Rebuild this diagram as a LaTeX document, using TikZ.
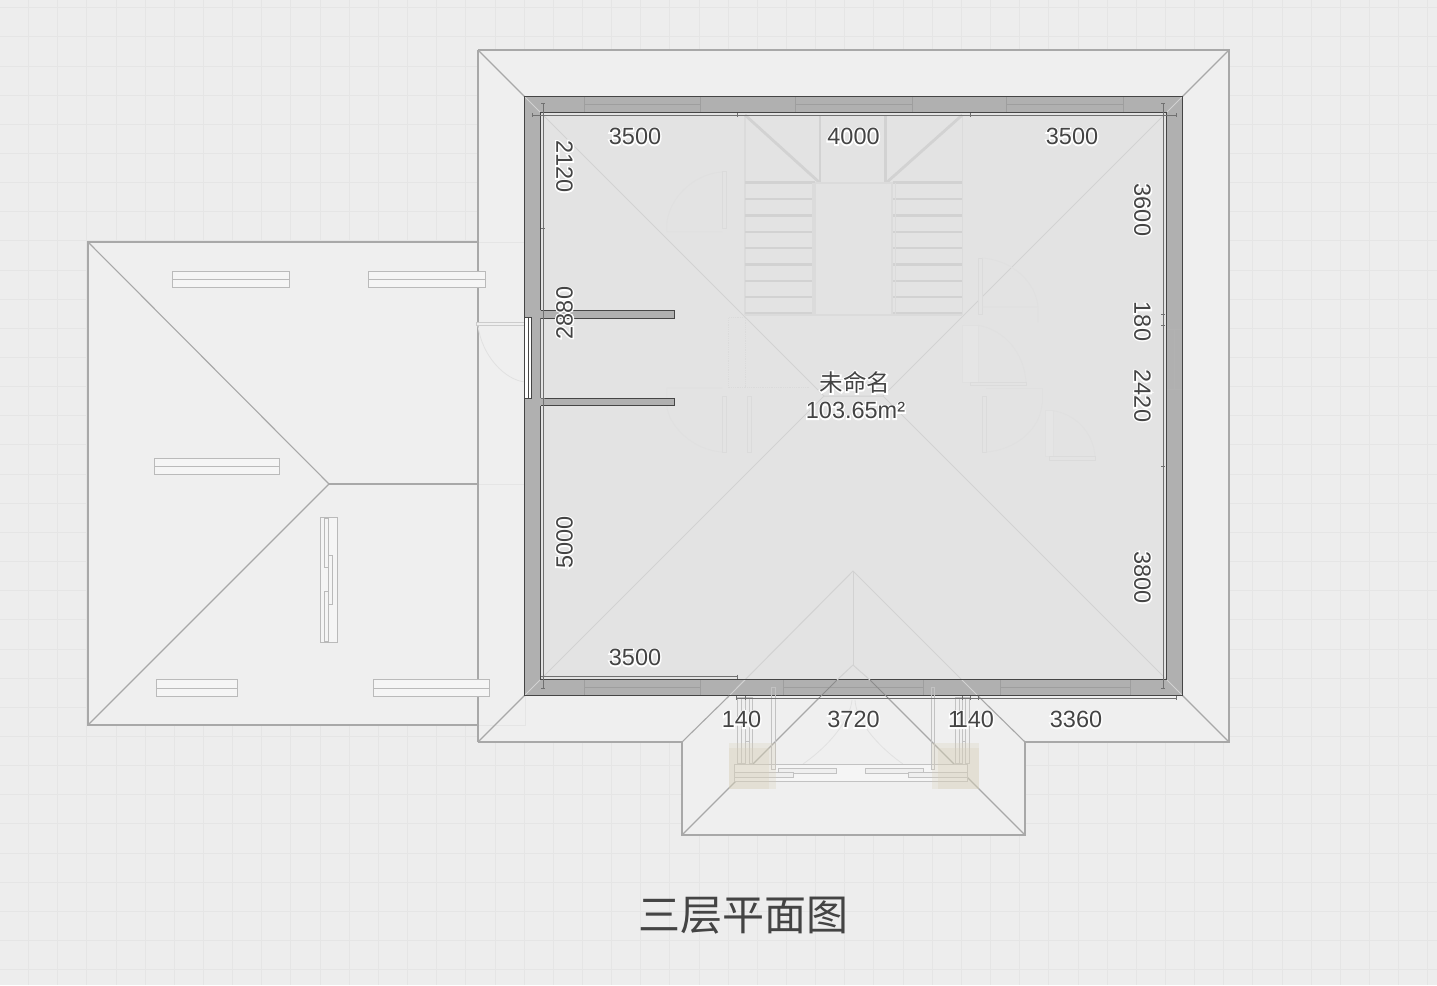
\documentclass[tikz,border=0pt]{standalone}
\usepackage{fontspec}
\setmainfont{Liberation Sans}
\newfontfamily\cjkfont{Noto Sans CJK SC}
\newfontfamily\halolatin[FakeBold=12]{Liberation Sans}
\newfontfamily\halocjk[FakeBold=12]{Noto Sans CJK SC}
\definecolor{bggrey}{HTML}{EDEDED}
\definecolor{gridgrey}{HTML}{E5E5E5}
\definecolor{roofgrey}{HTML}{EFEFEF}
\definecolor{roofline}{HTML}{A8A8A8}
\definecolor{wallgrey}{HTML}{B0B0B0}
\definecolor{walldark}{HTML}{454545}
\definecolor{floorgrey}{HTML}{E3E3E3}
\definecolor{faintline}{HTML}{D2D2D2}
\definecolor{fainter}{HTML}{DBDBDB}
\definecolor{ghostgrey}{HTML}{E0E0E0}
\definecolor{textgrey}{HTML}{444444}
\definecolor{dimgrey}{HTML}{707070}
\definecolor{beige}{HTML}{D8D0B8}
\tikzset{
  roofedge/.style={draw=roofline,line width=1.1pt},
  roofwin/.style={draw=black!27,fill=white!96!black,line width=1pt},
  stairthick/.style={draw=faintline,line width=2.8pt},
  stairthin/.style={draw=fainter,line width=1.6pt},
  ghost/.style={draw=ghostgrey,line width=0.8pt},
  ghostleaf/.style={draw=fainter,fill=floorgrey,line width=0.9pt},
  wallwin/.style={draw=black!38,line width=0.7pt},
  dimline/.style={draw=dimgrey,line width=1pt},
  tickmark/.style={draw=dimgrey,line width=1pt},
  dormer/.style={draw=black!24,fill=roofgrey,line width=0.9pt},
  dimlabel/.style={text=textgrey,font=\fontsize{23.5pt}{26pt}\selectfont,inner sep=0pt},
  titlelabel/.style={text=textgrey,font=\cjkfont\fontsize{42pt}{46pt}\selectfont,inner sep=0pt},
}
\newcommand{\halo}[1]{\rlap{\halolatin\textcolor{white}{#1}}#1}
\newcommand{\halocn}[1]{\rlap{\halocjk\textcolor{white}{#1}}{\cjkfont #1}}
\begin{document}
\begin{tikzpicture}[x=1pt,y=-1pt]
\useasboundingbox (0,0) rectangle (1437,985);
\fill[bggrey] (0,0) rectangle (1437,985);
% grid
\foreach \i in {0,...,49} {\draw[gridgrey,line width=0.9pt] ({-0.6+29.15*\i},0) -- ({-0.6+29.15*\i},985);}
\foreach \i in {0,...,33} {\draw[gridgrey,line width=0.9pt] (0,{7.65+29.15*\i}) -- (1437,{7.65+29.15*\i});}
% left roof
\fill[roofgrey] (88,242) rectangle (478,725);
\draw[roofedge] (478,242) -- (88,242) -- (88,725) -- (478,725);
\draw[roofedge] (88,242) -- (329,484) -- (88,725);
\draw[roofedge] (329,484) -- (478,484);
% main roof
\fill[roofgrey] (478,50) rectangle (1229,742);
\draw[draw=black!10,line width=0.8pt] (478,242) -- (525,242) (478,484) -- (525,484) (478,725) -- (525,725) -- (525,696);
\draw[roofedge] (478,50) -- (1229,50) -- (1229,742) -- (1025,742);
\draw[roofedge] (682,742) -- (478,742);
\draw[draw=roofline,line width=1.3pt] (478,50) -- (478,742);
\draw[roofedge] (478,50) -- (525,97) (1229,50) -- (1182,97) (478,742) -- (525,695) (1229,742) -- (1182,695);
% left roof windows
\draw[roofwin] (172.3,271.3) rectangle (289.3,287.3) (172.3,279.3) -- (289.3,279.3);
\draw[roofwin] (368.3,271.3) rectangle (485.3,287.3) (368.3,279.3) -- (485.3,279.3);
\draw[roofwin] (154.3,458) rectangle (279.3,474.3) (154.3,466.3) -- (279.3,466.3);
\draw[roofwin] (156,679.7) rectangle (237.3,696) (156,688) -- (237.3,688);
\draw[roofwin] (373,679.7) rectangle (489.3,696) (373,688) -- (489.3,688);
\draw[roofwin] (320.7,517.3) rectangle (337,642);
\draw[roofwin] (324.7,518.7) rectangle (328.7,567.3);
\draw[roofwin] (328.7,555.3) rectangle (332.7,604);
\draw[roofwin] (324.7,591.7) rectangle (328.7,641.3);
% door swing outside west wall
\draw[draw=black!6!roofgrey,line width=0.8pt] (478,326) .. controls (482,356) and (505,380) .. (525,382);
\draw[draw=black!20,fill=roofgrey,line width=0.9pt] (476,322.3) rectangle (524.5,325.7);
% walls
\fill[wallgrey] (524.5,96.7) rectangle (1182.3,695.3);
\fill[floorgrey] (540.7,112.3) rectangle (1166.7,679.3);
% wall windows
\foreach \a/\b in {584.3/700.7,795.7/912.3,1006.3/1123} {
  \draw[wallwin] (\a,97) -- (\a,112) (\b,97) -- (\b,112) (\a,104.7) -- (\b,104.7);
}
\foreach \a/\b in {584.3/700.7,783.3/923.3,1000.7/1130} {
  \draw[wallwin] (\a,680) -- (\a,695) (\b,680) -- (\b,695) (\a,687.5) -- (\b,687.5);
}
\draw[wallwin,black!30] (1167,329.3) -- (1182,329.3) (1167,389.3) -- (1182,389.3) (1174.3,329.3) -- (1174.3,389.3);
% roof lines seen through the room
\draw[faintline,line width=1pt] (525,97) -- (824,396) -- (883,396) -- (1182,97);
\draw[faintline,line width=1pt] (525,695) -- (824,396) (883,396) -- (1182,695);
\draw[faintline,line width=1pt] (729,696) -- (853,571) -- (978,696);
\draw[faintline,line width=1pt] (853,571) -- (853,665);
% stairs
\draw[stairthin] (745,115) -- (745,315) (962.3,115) -- (962.3,315);
\draw[stairthick] (745,115) -- (820,183) (962.3,115) -- (886,183);
\draw[stairthick] (820,115) -- (820,183) (885.7,115) -- (885.7,183);
\foreach \y in {182.7,199,215.7,232,248,264.3,281,297,313.3} {
  \draw[stairthick] (745,\y) -- (815,\y) (892.7,\y) -- (962.3,\y);
}
\draw[stairthin] (815,183) -- (892.7,183) (745,315) -- (962.3,315);
\draw[stairthin] (812.7,183) -- (812.7,315) (815,183) -- (815,315) (892,183) -- (892,315) (895.3,183) -- (895.3,315);
% faint doors
\draw[ghostleaf] (722.7,171.7) rectangle (726.7,228.3);
\draw[ghost] (722,172) .. controls (692,174) and (668,200) .. (666.7,225) -- (666.7,231.7) -- (722,231.7);
\draw[ghostleaf] (722.7,396.3) rectangle (726.7,452.3);
\draw[ghost] (722,452) .. controls (692,450) and (668,425) .. (666.7,405) -- (666.7,388) -- (722,388);
\draw[ghostleaf] (747.3,396) rectangle (751.7,452);
\draw[draw=fainter,line width=0.8pt,densely dotted] (728.7,387.3) rectangle (745.3,317.7) (745.3,387.3) -- (810,387.3);
\draw[ghostleaf] (978.3,258.3) rectangle (982.3,314.3);
\draw[ghost] (982,258) .. controls (1012,260) and (1036,282) .. (1038,307) -- (1038,322) (982,307) -- (1038,307);
\draw[ghost,fill=floorgrey!92!white] (962.3,325.3) rectangle (978.3,382);
\draw[ghostleaf] (970.3,382) rectangle (1026.7,385.7);
\draw[ghost] (1026,382) .. controls (1024,352) and (1004,330) .. (978.3,325.3);
\draw[ghostleaf] (982.3,396.3) rectangle (986.3,452.3);
\draw[ghost] (986.3,388.3) -- (1042,388.3) -- (1042,404);
\draw[ghost] (986.3,452) .. controls (1015,450) and (1040,430) .. (1042,404);
\draw[ghost,fill=floorgrey!92!white] (1045,410.7) rectangle (1053.3,456.7);
\draw[ghostleaf] (1049,456.7) rectangle (1095.7,460.7);
\draw[ghost] (1095,456) .. controls (1093,432) and (1075,414) .. (1053,410.7);
% wall outlines
\draw[walldark,line width=1pt] (524.5,96.7) -- (1182.3,96.7) -- (1182.3,695.3) -- (524.5,695.3) -- cycle;
\draw[walldark,line width=1pt] (540.7,310.3) -- (540.7,112.3) -- (1166.7,112.3) -- (1166.7,679.3) -- (540.7,679.3) -- (540.7,405.7);
\draw[walldark!70!wallgrey,line width=1pt] (540.7,318.3) -- (540.7,398.3);
% partition stubs
\draw[draw=walldark,fill=wallgrey,line width=1pt] (540.7,310.3) -- (674.3,310.3) -- (674.3,318.3) -- (540.7,318.3);
\draw[draw=walldark,fill=wallgrey,line width=1pt] (540.7,398.3) -- (674.3,398.3) -- (674.3,405.7) -- (540.7,405.7);
% west window
\draw[draw=walldark,fill=white,line width=0.9pt] (524.3,317.7) rectangle (531.7,398.3);
\draw[walldark,line width=0.8pt] (528,317.7) -- (528,398.3);
% dormer
\fill[roofgrey] (682,742) -- (682,835) -- (1025,835) -- (1025,742) -- (978,696) -- (729,696) -- cycle;
\draw[draw=black!6!roofgrey,line width=0.8pt] (803,764) .. controls (830,745) and (850,720) .. (852,700);
\draw[draw=black!6!roofgrey,line width=0.8pt] (903,764) .. controls (876,745) and (856,720) .. (855,700);
\draw[roofedge] (682,742) -- (682,835) -- (1025,835) -- (1025,742);
\draw[roofedge] (682,742) -- (729,696) (1025,742) -- (978,696);
\draw[roofedge] (682,835) -- (819,698) (1025,835) -- (888,698);
\draw[draw=black!45,line width=1pt] (819,698) -- (837,680) (888,698) -- (870,680);
\draw[faintline,line width=1pt] (837,680) -- (853,665) -- (870,680);
% porch
\draw[dormer,fill=white!96!black] (734.3,764.7) rectangle (967.3,781);
\draw[dormer] (778.3,768.7) rectangle (836.7,773.3);
\draw[dormer] (865,768.7) rectangle (923.3,773.3);
\draw[dormer] (734.3,772.7) rectangle (793.3,777.3);
\draw[dormer] (908.3,772.7) rectangle (967.3,777.3);
\foreach \a/\b/\c in {737.7/741.7/763,741.7/745.7/763,745.7/749/741,749/752.3/763,955/959/763,959/962.3/763,962.3/965.7/741,965.7/969/763} {
  \draw[draw=black!24,line width=0.9pt] (\a,697) rectangle (\b,\c);
}
\draw[draw=black!24,line width=0.9pt] (771.7,687.7) rectangle (775.3,769.3);
\draw[draw=black!24,line width=0.9pt] (931,687.7) rectangle (934.7,769.3);
% beige patches
\fill[beige,opacity=0.28] (729,742.7) rectangle (776,788.7);
\fill[beige,opacity=0.28] (729,748.3) rectangle (769.3,788.7);
\fill[beige,opacity=0.28] (931.7,742.7) rectangle (979,788.7);
\fill[beige,opacity=0.28] (938.3,748.3) rectangle (979,788.7);
% dimension lines
\draw[dimline] (532.3,115.3) -- (1176,115.3);
\draw[dimline] (543.3,103.3) -- (543.3,688);
\draw[dimline] (1163.3,103.3) -- (1163.3,688);
\draw[dimline] (736,698.3) -- (1176,698.3);
\draw[dimline] (541,676.7) -- (737,676.7);
\foreach \x in {532.3,737,970,1176} {\draw[tickmark] (\x,113.3) -- (\x,117.3);}
\foreach \x in {736.7,745,962,970,978,1176} {\draw[tickmark] (\x,696.3) -- (\x,700.3);}
\draw[tickmark] (737,674.7) -- (737,678.7);
\foreach \y in {103.3,228.5,398,688} {\draw[tickmark] (541.3,\y) -- (545.3,\y);}
\foreach \y in {103.3,314.3,325.3,466.5,688} {\draw[tickmark] (1161.3,\y) -- (1165.3,\y);}
% labels
\node[dimlabel] (d1) at (635,136.7) {\halo{3500}};
\node[dimlabel] (d2) at (853.5,136.7) {\halo{4000}};
\node[dimlabel] (d3) at (1072,136.7) {\halo{3500}};
\node[dimlabel,rotate=-90] (d4) at (564.5,166.5) {\halo{2120}};
\node[dimlabel,rotate=90] (d5) at (564.5,313) {\halo{2880}};
\node[dimlabel,rotate=90] (d6) at (564.5,542.5) {\halo{5000}};
\node[dimlabel,rotate=-90] (d7) at (1142.5,210) {\halo{3600}};
\node[dimlabel,rotate=-90] (d8) at (1142.5,321.5) {\halo{180}};
\node[dimlabel,rotate=-90] (d9) at (1142.5,396) {\halo{2420}};
\node[dimlabel,rotate=-90] (d10) at (1142.5,577.5) {\halo{3800}};
\node[dimlabel] (d11) at (635,657.7) {\halo{3500}};
\node[dimlabel] (d12) at (741.5,719.7) {\halo{140}};
\node[dimlabel] (d13) at (853.5,719.7) {\halo{3720}};
\node[dimlabel] (d14) at (971,719.7) {\halo{1\kern-6.3pt 140}};
\node[dimlabel] (d16) at (1076,719.7) {\halo{3360}};
\node[dimlabel] (room) at (855,382.5) {\halocn{未命名}};
\node[dimlabel] (area) at (855.5,410.7) {\halo{103.65m²}};
\node[titlelabel] (title) at (743,916) {三层平面图};
\end{tikzpicture}
\end{document}
